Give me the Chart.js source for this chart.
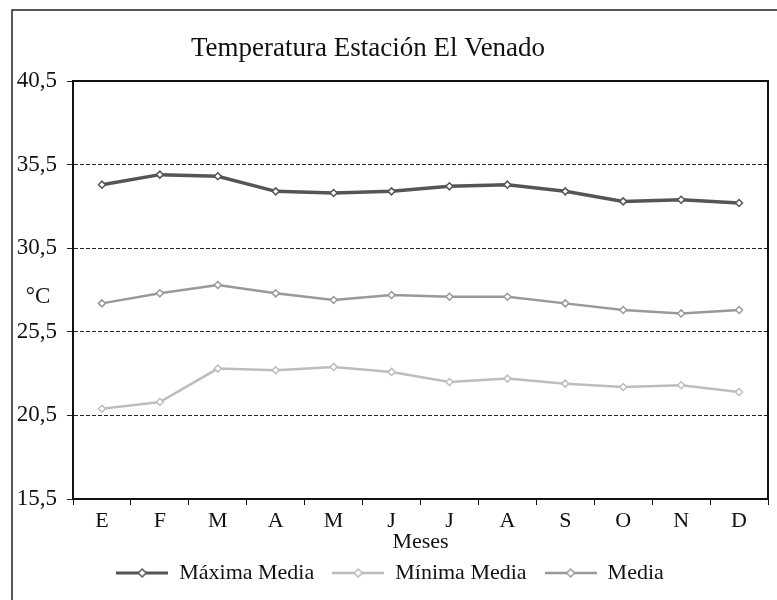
<!DOCTYPE html>
<html>
<head>
<meta charset="utf-8">
<script src="https://cdn.jsdelivr.net/npm/chart.js@4/dist/chart.umd.min.js"></script>
<style>
  html, body { margin: 0; padding: 0; background: #fff; }
  #wrap { width: 777px; height: 600px; position: relative; }
</style>
</head>
<body>
<div id="wrap"><canvas id="c" width="777" height="600"></canvas></div>
<script>
// Monthly temperatures, El Venado station (°C)
const meses = ['E', 'F', 'M', 'A', 'M', 'J', 'J', 'A', 'S', 'O', 'N', 'D'];
const maximaMedia = [34.3, 34.9, 34.8, 33.9, 33.8, 33.9, 34.2, 34.3, 33.9, 33.3, 33.4, 33.2];
const media       = [27.2, 27.8, 28.3, 27.8, 27.4, 27.7, 27.6, 27.6, 27.2, 26.8, 26.6, 26.8];
const minimaMedia = [20.9, 21.3, 23.3, 23.2, 23.4, 23.1, 22.5, 22.7, 22.4, 22.2, 22.3, 21.9];
const yTicks = [15.5, 20.5, 25.5, 30.5, 35.5, 40.5];

const serif = "'Liberation Serif', 'Times New Roman', serif";
const colMax = '#555555', colMin = '#bdbdbd', colMed = '#999999';

// Legend swatch: short line with a diamond marker in the middle
function swatch(color, lw) {
  const cv = document.createElement('canvas');
  cv.width = 52; cv.height = 12;
  const g = cv.getContext('2d');
  g.strokeStyle = color; g.lineWidth = lw;
  g.beginPath(); g.moveTo(0, 6); g.lineTo(52, 6); g.stroke();
  g.fillStyle = '#fff'; g.lineWidth = 1.5;
  g.beginPath(); g.moveTo(26, 2); g.lineTo(30, 6); g.lineTo(26, 10); g.lineTo(22, 6); g.closePath();
  g.fill(); g.stroke();
  return cv;
}
const swatches = [swatch(colMax, 3), swatch(colMin, 2.5), swatch(colMed, 2.5)];

// Outer frame, chart title, "°C" caption and the plot frame
const decor = {
  id: 'decor',
  beforeDraw(chart) {
    const {ctx} = chart;
    ctx.save();
    ctx.strokeStyle = '#222'; ctx.lineWidth = 1.5;
    ctx.beginPath(); ctx.moveTo(12, 600); ctx.lineTo(12, 10); ctx.lineTo(777, 10); ctx.stroke();
    ctx.restore();
  },
  afterDraw(chart) {
    const {ctx, chartArea} = chart;
    ctx.save();
    ctx.fillStyle = '#111';
    ctx.font = '27px ' + serif;
    ctx.textAlign = 'center'; ctx.textBaseline = 'middle';
    ctx.fillText('Temperatura Estación El Venado', 368, 49);
    ctx.font = '23px ' + serif;
    ctx.fillText('°C', 38, 297);
    ctx.strokeStyle = '#111'; ctx.lineWidth = 2;
    ctx.strokeRect(chartArea.left, chartArea.top, chartArea.right - chartArea.left, chartArea.bottom - chartArea.top);
    ctx.restore();
  }
};

const ds = (label, data, color, width) => ({
  label, data,
  borderColor: color, backgroundColor: '#ffffff',
  borderWidth: width,
  pointStyle: 'rectRot', pointRadius: 3.5, pointBorderWidth: 1.5,
  pointBorderColor: color, pointBackgroundColor: '#ffffff',
  tension: 0
});

new Chart(document.getElementById('c'), {
  type: 'line',
  data: {
    labels: meses,
    datasets: [
      ds('Máxima Media', maximaMedia, colMax, 3.5),
      ds('Mínima Media', minimaMedia, colMin, 2.5),
      ds('Media', media, colMed, 2.5)
    ]
  },
  options: {
    responsive: false,
    animation: false,
    layout: { padding: { top: 81, right: 9, bottom: 6, left: 12 } },
    plugins: {
      title: { display: false },
      tooltip: { enabled: false },
      legend: {
        position: 'bottom',
        labels: {
          color: '#111',
          font: { family: serif, size: 22 },
          usePointStyle: true,
          pointStyleWidth: 52,
          padding: 18,
          generateLabels(chart) {
            const items = Chart.defaults.plugins.legend.labels.generateLabels(chart);
            items.forEach((it, i) => { it.pointStyle = swatches[i]; });
            return items;
          }
        }
      }
    },
    scales: {
      x: {
        offset: true,
        afterFit(scale) { scale.height = 45; },
        grid: { display: true, drawOnChartArea: false, drawTicks: true, tickLength: 6, tickColor: '#111', color: '#111', offset: true },
        border: { display: true, color: '#111', width: 2 },
        ticks: { color: '#111', font: { family: serif, size: 22 }, padding: 3, maxRotation: 0, autoSkip: false },
        title: { display: true, text: 'Meses', color: '#111', font: { family: serif, size: 22 }, padding: { top: 0, bottom: -11 } }
      },
      y: {
        min: 15.5, max: 40.5,
        afterBuildTicks(scale) { scale.ticks = yTicks.map(v => ({ value: v })); },
        afterFit(scale) { scale.width = 61; },
        grid: { color: '#222', lineWidth: 1, tickLength: 6, tickColor: '#222' },
        border: { display: true, color: '#111', width: 2, dash: [4, 2] },
        ticks: {
          color: '#111', font: { family: serif, size: 23 }, padding: 10,
          callback: v => String(v).replace('.', ',')
        }
      }
    }
  },
  plugins: [decor]
});
</script>
</body>
</html>
